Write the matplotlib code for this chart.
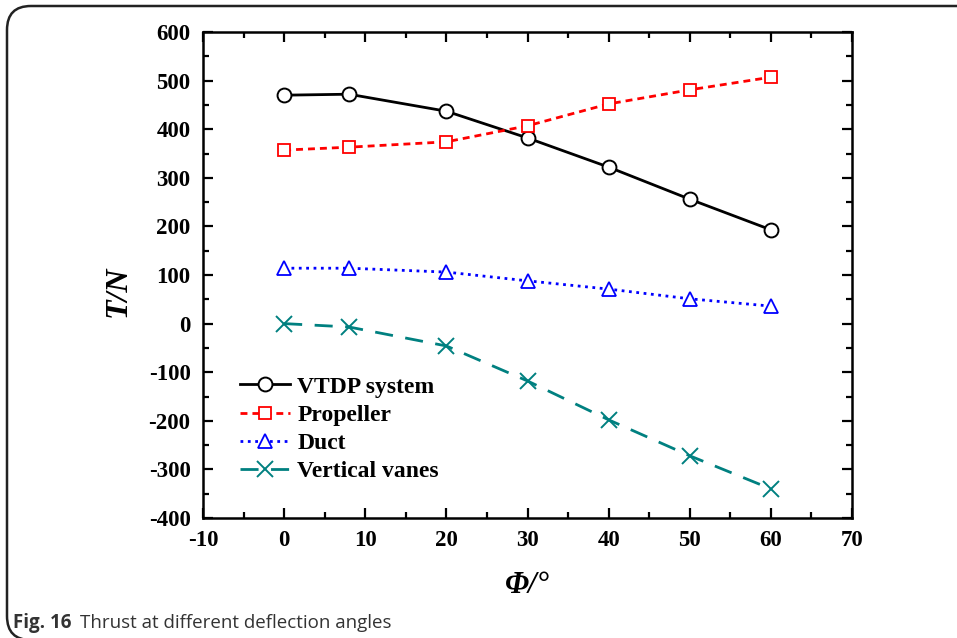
import numpy as np
import matplotlib.pyplot as plt
from matplotlib.patches import FancyBboxPatch
from matplotlib.ticker import MultipleLocator

# angle de deflexion (deg)
phi = [0, 8, 20, 30, 40, 50, 60]
vtdp = [470, 472, 437, 382, 322, 256, 193]
propeller = [357, 363, 374, 407, 452, 481, 507]
duct = [114, 114, 106, 88, 71, 51, 36]
vanes = [0, -7, -46, -118, -198, -272, -340]

x_ticks = [-10, 0, 10, 20, 30, 40, 50, 60, 70]
y_ticks = [-400, -300, -200, -100, 0, 100, 200, 300, 400, 500, 600]

serif = 'Liberation Serif'
plt.rcParams['axes.unicode_minus'] = False

fig = plt.figure(figsize=(9.57, 6.38), dpi=100)
ax = fig.add_axes([203/957, 1 - 518/638, (852 - 203)/957, (518 - 32)/638])

ax.plot(phi, vtdp, '-', color='black', lw=2, marker='o', ms=10,
        mfc='white', mec='black', mew=1.4, label='VTDP system')
ax.plot(phi, propeller, '--', color='red', lw=2, marker='s', ms=9,
        mfc='white', mec='red', mew=1.3, label='Propeller', dashes=(2.5, 1.8))
ax.plot(phi, duct, ':', color='blue', lw=2, marker='^', ms=10,
        mfc='white', mec='blue', mew=1.3, label='Duct')
ax.plot(phi, vanes, '--', color='#008080', lw=2, marker='x', ms=11,
        mec='#008080', mew=1.4, label='Vertical vanes', dashes=(6.5, 4.5))

ax.set_xlim(-10, 70)
ax.set_ylim(-400, 600)
ax.set_xticks(x_ticks)
ax.set_yticks(y_ticks)
ax.xaxis.set_minor_locator(MultipleLocator(5))
ax.yaxis.set_minor_locator(MultipleLocator(50))
ax.tick_params(which='both', direction='in', top=True, right=True, width=1.6)
ax.tick_params(which='major', length=7, pad=9)
ax.tick_params(which='minor', length=4)
for sp in ax.spines.values():
    sp.set_linewidth(1.8)
for lab in ax.get_xticklabels() + ax.get_yticklabels():
    lab.set_fontfamily(serif)
    lab.set_fontweight('bold')
    lab.set_fontsize(16.5)

ax.set_xlabel('Φ/°', fontfamily=serif, fontweight='bold', fontstyle='italic',
              fontsize=22, labelpad=14)
ax.set_ylabel('T/N', fontfamily=serif, fontweight='bold', fontstyle='italic',
              fontsize=23)
ax.yaxis.set_label_coords(-0.108, 0.467)

leg = ax.legend(loc='lower left', bbox_to_anchor=(0.025, 0.03), frameon=False,
                handlelength=2.1, handletextpad=0.3, labelspacing=0.28,
                prop={'family': serif, 'weight': 'bold', 'size': 17})

# cadre arrondi de la figure
box = FancyBboxPatch((7/957, -2/638), 1.1, 1 - 4/638,
                     boxstyle='round,pad=0,rounding_size=0.025',
                     transform=fig.transFigure, fill=False, ec='#222222',
                     lw=1.8, clip_on=False, mutation_aspect=957/638)
fig.patches.append(box)

fig.text(13/957, 1 - 628/638, 'Fig. 16', fontfamily='Open Sans', fontweight='bold',
         fontsize=13.5, color='#333333')
fig.text(80/957, 1 - 628/638, 'Thrust at different deflection angles',
         fontfamily='Open Sans', fontsize=13.5, color='#333333')

fig.savefig('out.png', dpi=100)
